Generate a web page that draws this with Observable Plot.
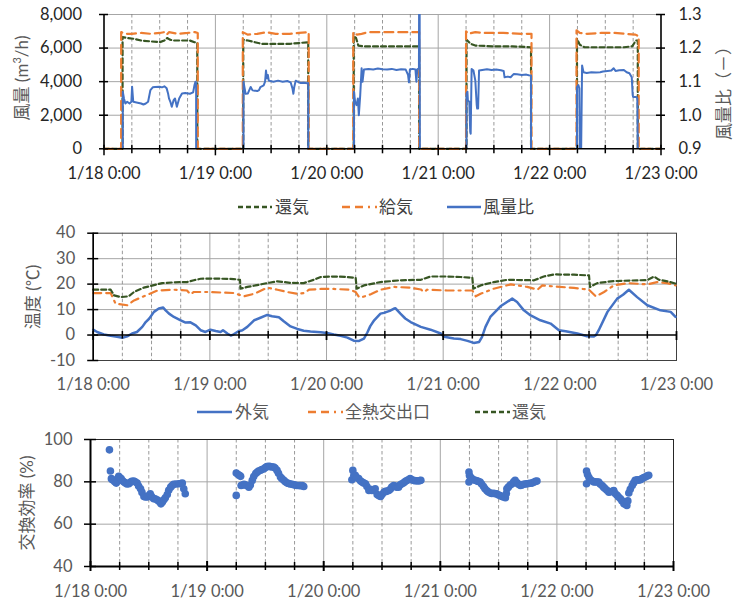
<!DOCTYPE html>
<html><head><meta charset="utf-8">
<script src="https://cdn.jsdelivr.net/npm/d3@7"></script>
<script src="https://cdn.jsdelivr.net/npm/@observablehq/plot@0.6"></script>
<style>
html,body{margin:0;padding:0;background:#fff;}
#wrap{position:relative;width:736px;height:606px;overflow:hidden;font-family:Lato,"Noto Sans CJK JP",sans-serif;}
#wrap svg.plot{position:absolute;left:0;top:0;}
.lg{position:absolute;height:24px;line-height:24px;font-size:17px;white-space:nowrap;font-family:"Noto Sans CJK JP",sans-serif;}
.sw{position:absolute;}
.yt{position:absolute;font-size:17px;color:#595959;white-space:nowrap;transform:translate(-50%,-50%) rotate(-90deg);font-family:Lato,"Noto Sans CJK JP",sans-serif;}
</style></head>
<body><div id="wrap"></div>
<script>
// ---- axes / ticks ----
const dayTicks = [0, 24, 48, 72, 96, 120];
const tickLabels = ["1/18 0:00", "1/19 0:00", "1/20 0:00", "1/21 0:00", "1/22 0:00", "1/23 0:00"];
const sixHourTicks = [6, 12, 18, 30, 36, 42, 54, 60, 66, 78, 84, 90, 102, 108, 114];
const flowTicks = [0, 2000, 4000, 6000, 8000];
const flowLabels = ["0", "2,000", "4,000", "6,000", "8,000"];
const ratioTicks = [0.9, 1.0, 1.1, 1.2, 1.3];
const ratioLabels = ["0.9", "1.0", "1.1", "1.2", "1.3"];
const tempTicks = [-10, 0, 10, 20, 30, 40];
const effTicks = [40, 60, 80, 100];

// ---- panel 1: air flow (hours from 1/18 0:00, m3/h) ----
const returnFlow = [[0,0],[4.0,0],[4.0,6650],[5,6600],[6.5,6550],[8,6450],[10,6400],[12,6350],[13,6450],[13.6,6600],[14.2,6500],[15,6450],[17,6450],[18.5,6450],[19.5,6350],[20.1,6300],[20.1,0],
[30.0,0],[30.0,6500],[31,6450],[32.5,6350],[34,6250],[37,6250],[40,6250],[42,6300],[44.0,6350],[44.0,0],
[53.8,0],[53.8,6700],[54.3,6600],[54.8,6150],[56,6100],[60,6100],[64,6100],[67.9,6100],[67.9,0],
[78.1,0],[78.1,6500],[79,6250],[80,6150],[84,6100],[88,6100],[92.0,6050],[92.0,0],
[101.9,0],[101.9,6550],[102.5,6200],[103.5,6050],[108,6050],[112,6050],[113.8,6100],[114.6,6450],[115.0,6450],[115.0,0],[120,0]];
const supplyFlow = [[0,0],[3.7,0],[3.7,6950],[4.5,6850],[6,6850],[8,6900],[10,6850],[12,6900],[13,6950],[13.5,6800],[14,6950],[16,6850],[18,6900],[19.6,6950],[20.2,6900],[20.2,0],
[29.9,0],[29.9,6950],[31,6800],[33,6850],[35,6950],[37,6850],[40,6850],[42,6900],[44.1,6950],[44.1,0],
[53.7,0],[53.7,6950],[54.5,6800],[55.5,6850],[57,6950],[60,6950],[64,6950],[67.9,6950],[67.9,0],
[78.0,0],[78.0,7000],[78.5,6850],[80,6950],[82,6900],[86,6900],[90,6850],[92.1,6850],[92.1,0],
[101.8,0],[101.8,7050],[102.5,6900],[104,6850],[107,6900],[110,6900],[114.5,6800],[115.2,6700],[115.2,0],[120,0]];
const flowRatio = [[4.05,0.9],[4.05,1.07],[4.3,1.05],[4.6,1.035],[5.0,1.04],[5.5,1.035],[5.9,1.04],[6.05,1.085],[6.3,1.04],[7,1.038],[8,1.035],[8.5,1.032],[9,1.035],[9.5,1.04],[10.0,1.075],[10.5,1.083],[11,1.084],[12,1.085],[12.5,1.083],[13,1.086],[13.5,1.08],[13.8,1.065],[14.0,1.05],[14.3,1.04],[14.6,1.025],[15.0,1.045],[15.3,1.05],[15.7,1.025],[16.2,1.05],[16.8,1.065],[17.5,1.066],[18.5,1.064],[19.2,1.068],[19.5,1.09],[19.7,1.1],[19.85,1.095],[19.85,0.9],[20,null],
[30.05,0.9],[30.05,1.10],[30.3,1.08],[30.5,1.064],[31,1.065],[31.3,1.075],[31.6,1.084],[32,1.074],[33,1.072],[33.4,1.075],[33.7,1.084],[34.4,1.089],[34.7,1.10],[34.9,1.133],[35.1,1.11],[35.3,1.12],[35.5,1.103],[36.5,1.10],[37.5,1.103],[38.5,1.10],[39.5,1.102],[40.2,1.098],[40.6,1.08],[40.8,1.064],[41.0,1.085],[41.3,1.103],[42,1.098],[42.4,1.096],[43,1.097],[43.8,1.095],[44.0,1.096],[44.0,0.9],[45,null],
[53.85,0.9],[53.85,1.07],[54.1,1.04],[54.4,1.03],[54.7,1.05],[54.9,1.0],[55.2,1.06],[55.5,1.14],[55.7,1.10],[56.0,1.136],[57,1.138],[58,1.136],[59,1.139],[60,1.137],[61,1.136],[62,1.138],[63,1.135],[64,1.137],[65,1.136],[65.5,1.12],[65.7,1.098],[65.9,1.136],[66.5,1.138],[67.1,1.136],[67.3,1.10],[67.5,1.137],[67.85,1.14],[67.9,1.4],[68.0,1.4],[68.05,0.9],[69,null],
[78.1,0.9],[78.1,1.064],[78.3,1.07],[78.4,1.044],[78.7,1.04],[78.9,0.95],[79.0,0.945],[79.2,1.138],[79.6,1.133],[80.0,1.103],[80.3,1.03],[80.4,1.02],[80.6,1.02],[80.8,1.133],[81.5,1.135],[82.5,1.137],[83.5,1.135],[84.5,1.136],[85.5,1.134],[86.1,1.132],[86.3,1.113],[87,1.115],[87.6,1.113],[88.3,1.123],[89,1.122],[90,1.12],[91,1.121],[91.5,1.119],[92.0,1.118],[92.0,0.9],[93,null],
[101.9,0.9],[101.9,1.084],[102.2,1.09],[102.4,1.08],[102.5,0.9],[102.8,0.9],[103.0,1.148],[103.3,1.128],[104,1.126],[105,1.128],[106,1.127],[106.9,1.128],[107.5,1.13],[108.5,1.132],[109.3,1.133],[109.8,1.14],[110.2,1.132],[111,1.134],[112,1.135],[112.6,1.128],[113.2,1.125],[113.7,1.113],[113.9,1.06],[114.0,1.054],[114.7,1.054],[114.9,1.05],[115.0,0.9]];

// ---- panel 2: temperature (°C) ----
const outdoorT = [[0,2.1],[0.8,1.2],[2.2,0.2],[3.6,-0.3],[4.9,-0.7],[6.0,-1.1],[7.0,-0.5],[8.0,0.6],[9.0,1.2],[10.1,3.2],[10.8,5.1],[11.5,6.4],[12.5,9.1],[13.5,10.4],[14.4,10.8],[14.9,9.7],[15.6,8.4],[16.6,7.1],[18.0,5.8],[19.0,4.9],[20.0,5.0],[21.1,3.8],[22.1,1.9],[23.1,1.2],[24.1,2.1],[25.2,1.6],[26.2,1.2],[26.7,1.9],[27.6,0.6],[28.3,-0.2],[28.9,0.3],[29.8,1.4],[30.7,1.9],[31.7,3.2],[33.1,5.8],[34.4,6.8],[35.8,7.9],[36.8,7.4],[38.2,7.0],[39.2,5.4],[40.6,3.4],[42.0,2.4],[43.3,1.7],[44.7,1.4],[46.8,1.1],[48.1,0.8],[49.5,0.2],[50.9,-0.3],[52.3,-1.0],[53.6,-2.2],[54.7,-2.3],[55.7,-1.4],[56.4,1.0],[57.0,3.5],[57.8,5.8],[59.1,8.4],[59.8,8.7],[61.0,9.5],[61.9,10.4],[62.2,10.5],[63.2,8.4],[64.2,6.5],[65.3,5.1],[67.4,3.2],[69.4,2.1],[71.5,0.6],[72.2,-0.7],[74.2,-1.4],[75.6,-1.6],[77.0,-2.3],[78.3,-3.1],[79.4,-2.7],[80.0,-0.7],[80.7,3.2],[81.7,7.1],[83.8,11.3],[86.2,14.3],[87.2,13.0],[88.6,9.7],[90.0,7.7],[92.0,5.8],[94.1,4.5],[95.8,1.9],[97.2,1.5],[99.6,0.6],[101.6,-0.5],[103.0,-0.6],[103.4,-0.1],[104.0,1.9],[105.8,9.1],[107.8,14.3],[109.0,15.8],[110.2,17.8],[111.9,14.9],[114.0,11.7],[116.7,9.7],[118.8,9.1],[119.8,7.1]];
const outletT = [[0,16.5],[3.6,16.5],[4.6,12.3],[7.0,11.7],[8.4,13.6],[10.4,15.2],[13.2,17.5],[16.6,17.8],[19.3,17.5],[20.0,16.0],[20.7,16.9],[23.5,16.9],[28.9,16.5],[31.0,15.2],[33.1,16.2],[35.8,18.6],[37.9,17.8],[39.9,16.9],[42.0,16.2],[43.3,16.5],[44.4,17.8],[46.8,18.1],[49.5,18.1],[52.9,17.8],[54.0,16.9],[54.7,14.9],[55.5,15.0],[57.1,16.0],[59.1,17.8],[61.9,18.9],[65.3,18.6],[67.4,17.9],[68.1,16.9],[68.7,17.8],[72.8,17.5],[78.0,17.5],[78.7,15.2],[79.7,16.2],[82.4,18.2],[85.9,19.9],[89.3,18.9],[91.4,17.8],[92.4,19.5],[94.8,19.1],[98.9,18.5],[102.0,17.8],[103.4,15.2],[105.1,16.9],[107.1,19.5],[109.9,20.4],[114.0,19.9],[116.0,20.8],[118.1,20.4],[119.8,19.5]];
const returnT = [[0,17.8],[3.6,17.8],[4.3,15.6],[5.6,14.9],[7.3,15.2],[8.4,16.9],[10.4,18.6],[12.5,19.6],[14.2,20.4],[16.6,20.7],[19.3,20.8],[20.7,21.5],[22.1,22.1],[24.8,22.2],[28.9,22.0],[30.2,21.7],[30.3,18.2],[31.7,18.9],[33.7,19.6],[35.8,20.4],[37.9,21.1],[40.6,20.5],[43.3,20.4],[45.4,21.7],[46.8,22.8],[49.5,23.0],[52.3,22.8],[54.0,22.4],[54.2,18.2],[55.7,19.5],[59.1,20.8],[63.2,21.5],[67.4,21.7],[69.4,23.0],[72.2,23.0],[75.6,22.8],[78.0,22.5],[78.2,18.2],[79.7,19.5],[82.4,20.8],[85.2,21.7],[90.7,21.5],[92.7,23.0],[94.8,23.8],[98.9,23.7],[102.0,23.4],[102.2,18.9],[103.7,20.4],[107.1,21.2],[114.0,21.6],[115.4,23.0],[116.4,21.7],[118.1,21.1],[119.8,20.2]];

// ---- panel 3: exchange efficiency (%) ----
const efficiency = [[3.9,95.1],[4.1,85.1],[4.3,81.5],[4.5,81],[4.8,80.7],[5.0,80],[5.3,79.4],[5.6,80.5],[5.8,82.6],[6.0,82],[6.3,81.5],[6.6,80.5],[6.9,79.9],[7.2,79.5],[7.5,79],[7.9,79.1],[8.2,79.8],[8.5,80.2],[8.9,80.4],[9.2,80],[9.6,79.4],[9.9,78],[10.3,76.7],[10.6,75],[11.0,73.1],[11.3,72.8],[11.7,72.8],[12.0,73.5],[12.3,74.4],[12.6,73],[13.0,72.0],[13.3,72],[13.7,71.5],[14.0,71],[14.3,70.5],[14.5,69.6],[14.8,70.5],[15.1,71.5],[15.4,72.5],[15.8,74.0],[16.1,76],[16.5,77.5],[16.8,78.3],[17.1,78.8],[17.6,79],[18.2,79.1],[18.6,79.2],[18.9,79.4],[19.2,76.7],[19.5,74.4],
[30.0,73.6],[30.0,84.2],[30.4,83.5],[30.7,83],[30.9,82.6],[31.0,78.3],[31.3,78.5],[31.6,78.8],[31.9,78.5],[32.2,78.3],[32.6,77.5],[32.9,78.5],[33.3,80.7],[33.6,82.5],[34.0,83.9],[34.3,84.5],[34.6,85.1],[35.0,85.5],[35.3,85.8],[35.7,86.2],[36.0,86.8],[36.3,87.2],[36.7,87.3],[37.0,87.2],[37.4,87],[37.7,87.0],[38.0,86.5],[38.4,85.4],[38.7,84],[39.1,82.3],[39.4,81.5],[39.8,80.7],[40.1,80],[40.5,79.4],[40.8,79.2],[41.1,79],[41.5,78.8],[41.9,78.6],[42.2,78.4],[42.5,78.3],[42.9,78.3],[43.2,78.2],[43.6,78.2],[43.9,77.8],
[53.8,81.0],[54.0,85.4],[54.2,83],[54.5,83.1],[54.8,82],[55.2,81.5],[55.6,80.4],[55.9,79.9],[56.2,79.5],[56.6,79.1],[56.9,77.8],[57.3,75.9],[57.6,76.5],[57.9,75.9],[58.2,76],[58.6,76.7],[59.0,74.0],[59.3,73.5],[59.7,73.1],[60.0,74],[60.4,75.1],[60.7,75.5],[61.0,75.5],[61.4,75.9],[61.7,76.5],[62.0,77.5],[62.4,78.3],[62.7,78],[63.0,77.5],[63.4,77.5],[63.7,78.5],[64.0,79],[64.4,79.4],[64.7,80],[65.0,80.5],[65.4,81],[65.8,81.5],[66.1,81],[66.5,80.7],[66.8,80.5],[67.1,80.5],[67.5,80.4],[67.8,80.6],[68.0,80.7],
[77.9,84.6],[77.9,79.9],[78.0,83],[78.2,82.3],[78.5,81.5],[78.8,81],[79.2,80.7],[79.5,80.5],[79.8,80.2],[80.2,79.9],[80.5,79],[80.9,77.8],[81.2,76.7],[81.6,75.8],[81.9,75.2],[82.3,74.7],[82.6,74.5],[83.0,74.6],[83.3,74.4],[83.6,74.4],[84.0,73.8],[84.3,73.5],[84.7,73.1],[85.0,72.8],[85.4,72.5],[85.6,74.5],[85.7,76.7],[86.0,77.5],[86.4,78.5],[86.8,79.1],[87.1,80],[87.4,80.7],[87.8,79.5],[88.1,78.8],[88.5,78.3],[88.8,78.5],[89.1,78.8],[89.5,79],[89.8,79.1],[90.2,79.2],[90.5,79.3],[90.9,79.4],[91.2,79.8],[91.6,80.2],[91.9,80.4],
[102.1,85.1],[102.1,79.1],[102.3,83.5],[102.6,82.0],[102.9,81],[103.2,80.5],[103.6,79.9],[103.9,80],[104.3,79.9],[104.6,79.9],[104.9,79],[105.3,78.3],[105.6,77.5],[105.9,76.8],[106.3,76],[106.7,75.1],[107.0,75.3],[107.4,75.5],[107.7,75.9],[108.0,74.5],[108.4,73.6],[108.7,72.8],[109.1,72.0],[109.4,71],[109.8,69.6],[110.1,69.5],[110.4,68.8],[110.6,71],[110.8,74.7],[111.1,76.5],[111.5,78.3],[111.8,79.5],[112.1,80.7],[112.5,81],[112.8,80.8],[113.2,81.0],[113.5,81.5],[113.9,82],[114.2,82.3],[114.6,82.8],[114.9,83.1]];

// ---- styling ----
const BLUE = "#4472C4", ORANGE = "#ED7D31", GREEN = "#375623";
const GRID = "#a6a6a6", DASHGRID = "#7f7f7f";
const W = 736, H = 606;
const FONT = 'Lato, "Noto Sans CJK JP", sans-serif';
const wrap = document.getElementById("wrap");

function panel(f, yDomain, marksFn) {
  const kx = 120 / (f.right - f.left);
  const ky = (yDomain[1] - yDomain[0]) / (f.bottom - f.top);
  const svg = Plot.plot({
    width: W, height: H,
    marginTop: f.top, marginBottom: H - f.bottom, marginLeft: f.left, marginRight: W - f.right,
    x: {domain: [0, 120], axis: null},
    y: {domain: yDomain, axis: null},
    style: {background: "transparent", fontFamily: FONT, overflow: "visible"},
    marks: marksFn(kx, ky)
  });
  svg.classList.add("plot");
  wrap.appendChild(svg);
}
function vgrid() {
  return [
    Plot.ruleX(dayTicks.slice(1, -1), {x: d => d, stroke: GRID, strokeWidth: 1}),
    Plot.ruleX(sixHourTicks, {x: d => d, stroke: DASHGRID, strokeWidth: 0.8, strokeDasharray: "3.5,2.5"})
  ];
}
const ratioToFlow = r => (r - 0.9) / 0.4 * 8000;

// Panel 1
panel({left: 103.5, right: 660.5, top: 14, bottom: 148.3}, [0, 8000], (kx, ky) => [
  Plot.ruleY(flowTicks.slice(1), {y: d => d, stroke: GRID, strokeWidth: 1}),
  ...vgrid(),
  Plot.line(returnFlow, {x: d => d[0], y: d => d[1], stroke: GREEN, strokeWidth: 2.2, strokeDasharray: "5,3"}),
  Plot.line(supplyFlow, {x: d => d[0], y: d => d[1], stroke: ORANGE, strokeWidth: 2.2, strokeDasharray: "9,5"}),
  Plot.line(flowRatio, {x: d => d[0], y: d => d[1] == null ? NaN : ratioToFlow(d[1]), stroke: BLUE, strokeWidth: 2, clip: "frame"}),
  Plot.ruleY([0], {stroke: "#000", strokeWidth: 1.6}),
  Plot.ruleX([0, 120], {x: d => d, stroke: "#000", strokeWidth: 1.6}),
  Plot.ruleX(sixHourTicks, {x: d => d, y1: () => -5 * ky, y2: () => 3.5 * ky, stroke: "#000", strokeWidth: 1.5}),
  Plot.ruleX(dayTicks, {x: d => d, y1: () => -7 * ky, y2: () => 3.5 * ky, stroke: "#000", strokeWidth: 1.5}),
  Plot.ruleY(flowTicks, {y: d => d, x1: () => -4.5 * kx, x2: () => 4.5 * kx, stroke: "#000", strokeWidth: 1.5}),
  Plot.ruleY(flowTicks, {y: d => d, x1: () => 120 - 4.5 * kx, x2: () => 120 + 4.5 * kx, stroke: "#000", strokeWidth: 1.5}),
  Plot.text(flowTicks, {x: () => 0, y: d => d, text: (d, i) => flowLabels[i], dx: -22, textAnchor: "end", fontSize: 16.5, fill: "#262626"}),
  Plot.text(ratioTicks, {x: () => 120, y: d => ratioToFlow(d), text: (d, i) => ratioLabels[i], dx: 17.5, textAnchor: "start", fontSize: 16.5, fill: "#262626"}),
  Plot.text(dayTicks, {x: d => d, y: () => 0, text: (d, i) => tickLabels[i], dy: 25, fontSize: 16.5, fill: "#262626"})
]);

// Panel 2
panel({left: 92.7, right: 676, top: 232.7, bottom: 360}, [-10, 40], (kx, ky) => [
  Plot.ruleY([10, 20, 30], {y: d => d, stroke: GRID, strokeWidth: 1}),
  ...vgrid(),
  Plot.frame({stroke: "#404040", strokeWidth: 1}),
  Plot.line(outdoorT, {x: d => d[0], y: d => d[1], stroke: BLUE, strokeWidth: 2.5}),
  Plot.line(outletT, {x: d => d[0], y: d => d[1], stroke: ORANGE, strokeWidth: 2.2, strokeDasharray: "8,5,8,5,2,5"}),
  Plot.line(returnT, {x: d => d[0], y: d => d[1], stroke: GREEN, strokeWidth: 2.2, strokeDasharray: "5,3"}),
  Plot.ruleY([0], {stroke: "#000", strokeWidth: 1.6}),
  Plot.ruleX([0], {stroke: "#000", strokeWidth: 1.6}),
  Plot.ruleX(sixHourTicks, {x: d => d, y1: () => -4 * ky, y2: () => 3.5 * ky, stroke: "#000", strokeWidth: 1.5}),
  Plot.ruleX(dayTicks, {x: d => d, y1: () => -5.5 * ky, y2: () => 3.5 * ky, stroke: "#000", strokeWidth: 1.8}),
  Plot.ruleY(tempTicks, {y: d => d, x1: () => -5.5 * kx, x2: () => 5.5 * kx, stroke: "#000", strokeWidth: 1.5}),
  Plot.text(tempTicks, {x: () => 0, y: d => d, text: d => String(d), dx: -18, textAnchor: "end", fontSize: 16.5, fill: "#595959"}),
  Plot.text(dayTicks, {x: d => d, y: () => -10, text: (d, i) => tickLabels[i], dy: 24, fontSize: 16.5, fill: "#595959"})
]);

// Panel 3
panel({left: 90, right: 673, top: 439, bottom: 566}, [40, 100], (kx, ky) => [
  Plot.ruleY([60, 80], {y: d => d, stroke: GRID, strokeWidth: 1}),
  ...vgrid(),
  Plot.frame({stroke: "#262626", strokeWidth: 1}),
  Plot.dot(efficiency, {x: d => d[0], y: d => d[1], r: 3.8, fill: BLUE, stroke: "none"}),
  Plot.ruleY([40], {stroke: "#000", strokeWidth: 2}),
  Plot.ruleX([0], {stroke: "#000", strokeWidth: 2}),
  Plot.ruleX(sixHourTicks, {x: d => d, y1: () => 40 - 4 * ky, y2: () => 40 + 4 * ky, stroke: "#000", strokeWidth: 1.5}),
  Plot.ruleX(dayTicks, {x: d => d, y1: () => 40 - 5 * ky, y2: () => 40 + 5 * ky, stroke: "#000", strokeWidth: 2}),
  Plot.ruleY(effTicks, {y: d => d, x1: () => -6 * kx, x2: () => 6 * kx, stroke: "#000", strokeWidth: 1.5}),
  Plot.text(effTicks, {x: () => 0, y: d => d, text: d => String(d), dx: -18, textAnchor: "end", fontSize: 16.5, fill: "#595959"}),
  Plot.text(dayTicks, {x: d => d, y: () => 40, text: (d, i) => tickLabels[i], dy: 25, fontSize: 16.5, fill: "#595959"})
]);

// ---- legends & titles (HTML) ----
function legendItem(x, w, tx, y, color, dash, width, label, textColor) {
  const s = document.createElementNS("http://www.w3.org/2000/svg", "svg");
  s.setAttribute("class", "sw"); s.setAttribute("width", w); s.setAttribute("height", 8);
  s.style.left = x + "px"; s.style.top = (y - 4) + "px";
  const l = document.createElementNS("http://www.w3.org/2000/svg", "line");
  l.setAttribute("x1", 0); l.setAttribute("x2", w); l.setAttribute("y1", 4); l.setAttribute("y2", 4);
  l.setAttribute("stroke", color); l.setAttribute("stroke-width", width);
  if (dash) l.setAttribute("stroke-dasharray", dash);
  s.appendChild(l); wrap.appendChild(s);
  const t = document.createElement("div");
  t.className = "lg"; t.textContent = label; t.style.left = tx + "px"; t.style.top = (y - 13) + "px"; t.style.color = textColor;
  wrap.appendChild(t);
}
const legend1 = ["還気", "給気", "風量比"];
const legend2 = ["外気", "全熱交出口", "還気"];
legendItem(238, 34, 275, 207, GREEN, "5,3", 2.5, legend1[0], "#404040");
legendItem(342, 35, 379, 207, ORANGE, "8,5,8,5,2,5", 2.5, legend1[1], "#404040");
legendItem(447, 34, 483, 207, BLUE, null, 2.5, legend1[2], "#404040");
legendItem(197, 35, 235, 412, BLUE, null, 2.5, legend2[0], "#595959");
legendItem(308, 35, 345, 412, ORANGE, "8,5,8,5,2,5", 2.5, legend2[1], "#595959");
legendItem(475, 35, 512, 412, GREEN, "5,3", 2.5, legend2[2], "#595959");

function yTitle(html, x, y) {
  const d = document.createElement("div");
  d.className = "yt"; d.innerHTML = html; d.style.left = x + "px"; d.style.top = y + "px";
  wrap.appendChild(d);
}
yTitle("風量 (m<sup style='font-size:11px'>3</sup>/h)", 20, 78);
yTitle("風量比（－）", 722, 89);
yTitle("温度 (℃)", 31, 297);
yTitle("交換効率 (%)", 25, 503);
</script>
</body></html>
